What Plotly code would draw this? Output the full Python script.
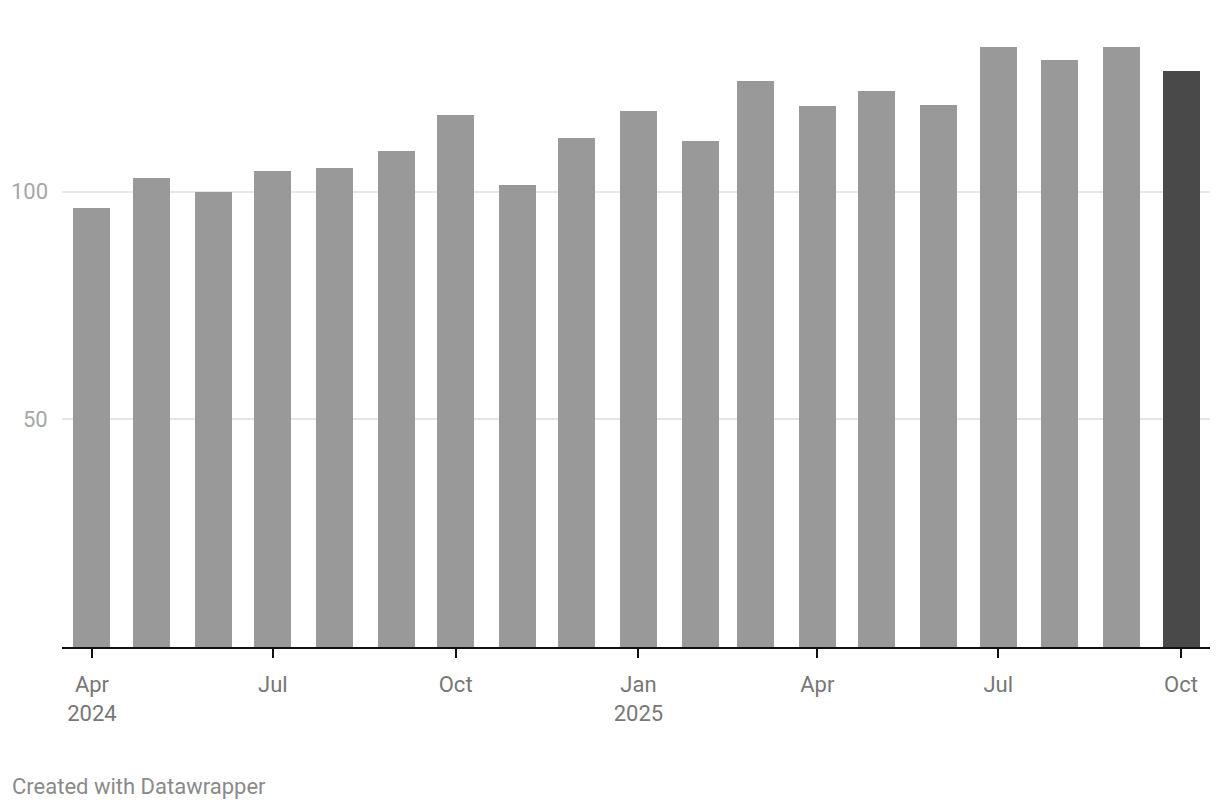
import plotly.graph_objects as go

months = ["2024-04-01", "2024-05-01", "2024-06-01", "2024-07-01", "2024-08-01",
          "2024-09-01", "2024-10-01", "2024-11-01", "2024-12-01", "2025-01-01",
          "2025-02-01", "2025-03-01", "2025-04-01", "2025-05-01", "2025-06-01",
          "2025-07-01", "2025-08-01", "2025-09-01", "2025-10-01"]
values = [96.4, 103.0, 99.9, 104.7, 105.2, 108.9, 117.0, 101.6, 111.8, 117.9,
          111.3, 124.3, 119.0, 122.3, 119.2, 131.8, 128.9, 131.8, 126.7]
bar_colors = ["#999999"] * 18 + ["#494949"]

tick_dates = ["2024-04-01", "2024-07-01", "2024-10-01", "2025-01-01",
              "2025-04-01", "2025-07-01", "2025-10-01"]
tick_labels = ["Apr<br>2024", "Jul", "Oct", "Jan<br>2025", "Apr", "Jul", "Oct"]
y_ticks = [50, 100]
y_tick_labels = ["50", "100"]

DAY_MS = 86400000
fig = go.Figure(go.Bar(
    x=months, y=values, marker=dict(color=bar_colors, line=dict(width=0)),
    width=18.6 * DAY_MS, hoverinfo="x+y",
))

PLOT_W = 1212 - 54 - 10

annotations = [dict(
    text=lab, xref="paper", yref="y", x=-12 / PLOT_W, y=v,
    xanchor="right", yanchor="middle", showarrow=False,
    font=dict(family="Roboto", size=22, color="#a6a6a6"),
) for v, lab in zip(y_ticks, y_tick_labels)]

annotations.append(dict(
    text="Created with Datawrapper", xref="paper", yref="paper",
    x=-52 / PLOT_W, y=-(787 - 647) / 617, xanchor="left", yanchor="middle",
    showarrow=False, font=dict(family="Roboto", size=22, color="#8a8a8a"),
))

fig.update_layout(
    width=1212, height=802,
    margin=dict(l=54, r=10, t=22, b=163),
    paper_bgcolor="white", plot_bgcolor="white",
    font=dict(family="Roboto", size=22, color="#777777"),
    showlegend=False,
    xaxis=dict(
        type="date",
        range=["2024-03-16 22:00", "2025-10-15 14:00"],
        tickmode="array", tickvals=tick_dates, ticktext=tick_labels,
        ticks="outside", ticklen=9, tickwidth=2, tickcolor="#111111",
        showline=True, linecolor="#111111", linewidth=2,
        showgrid=False, zeroline=False,
        ticklabelstandoff=8,
        tickfont=dict(family="Roboto", size=22, color="#777777"),
    ),
    yaxis=dict(
        range=[0, 135.6],
        tickmode="array", tickvals=y_ticks, showticklabels=False,
        showgrid=True, gridcolor="#e6e6e6", gridwidth=2,
        zeroline=False, showline=False, ticks="",
    ),
    annotations=annotations,
    bargap=0,
)

fig.write_html("out.html")
